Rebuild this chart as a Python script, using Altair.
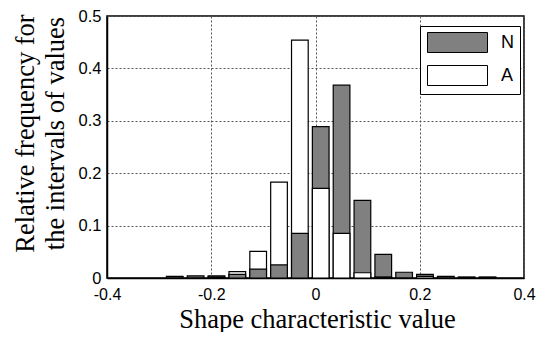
import altair as alt
import pandas as pd

centers = [-0.27, -0.23, -0.19, -0.15, -0.11, -0.07, -0.03, 0.01, 0.05, 0.09,
           0.13, 0.17, 0.21, 0.25, 0.29, 0.33]
n_vals = [0.003, 0.004, 0.004, 0.007, 0.017, 0.025, 0.085, 0.289, 0.368, 0.148,
          0.045, 0.011, 0.007, 0.003, 0.002, 0.002]
a_vals = [0.0, 0.0, 0.002, 0.012, 0.051, 0.183, 0.454, 0.171, 0.085, 0.010,
          0.002, 0.0, 0.003, 0.0, 0.0, 0.0]
series_names = ["N", "A"]
series_colors = ["#808080", "#ffffff"]
x_ticks = [-0.4, -0.2, 0, 0.2, 0.4]
y_ticks = [0, 0.1, 0.2, 0.3, 0.4, 0.5]
bin_width = 0.04

rows = []
for c, n, a in zip(centers, n_vals, a_vals):
    rows.append({"center": c, "series": "N", "value": n})
    rows.append({"center": c, "series": "A", "value": a})
df = pd.DataFrame(rows)
# larger bar drawn first, smaller one in front
df = df.sort_values("value", ascending=False, kind="stable").reset_index(drop=True)

half = bin_width * 0.4

bars = alt.Chart(df).transform_calculate(
    x0=f"datum.center - {half}", x1=f"datum.center + {half}"
).mark_bar(stroke="black", strokeWidth=1.2).encode(
    x=alt.X("x0:Q", scale=alt.Scale(domain=[-0.4, 0.4], nice=False),
            axis=alt.Axis(values=x_ticks, title="Shape characteristic value",
                          labelExpr="'' + datum.value", labelFlush=False,
                          titleX=210, titleY=49, titleBaseline="alphabetic",
                          labelPadding=8, labelFontSize=16)),
    x2="x1:Q",
    y=alt.Y("value:Q", scale=alt.Scale(domain=[0, 0.5], nice=False),
            axis=alt.Axis(values=y_ticks,
                          title=["Relative frequency for", "the intervals of values"],
                          labelExpr="'' + datum.value", labelFlush=False,
                          titleX=-74, titleY=117, titleAngle=270,
                          titleAlign="center", titleBaseline="alphabetic",
                          titleLineHeight=30, labelPadding=6)),
    y2=alt.datum(0),
    fill=alt.Fill("series:N",
                  scale=alt.Scale(domain=series_names, range=series_colors),
                  legend=alt.Legend(title=None, orient="none", legendX=313, legendY=10,
                                    symbolType="M-3,-1H3V1H-3Z", symbolSize=400,
                                    symbolStrokeColor="black", symbolStrokeWidth=1,
                                    symbolOpacity=1,
                                    symbolOffset=21, labelOffset=33,
                                    rowPadding=8, padding=6,
                                    strokeColor="black", fillColor="white",
                                    labelFont="Liberation Sans", labelFontSize=18,
                                    labelColor="black")),
    order=alt.Order("value:Q", sort="descending"),
)

chart = bars.properties(
    width=417, height=262,
    autosize=alt.AutoSizeParams(type="none"),
    padding={"left": 99, "top": 8, "right": 13, "bottom": 54},
).configure_view(
    stroke="black", strokeWidth=1.5
).configure_axis(
    grid=True, gridDash=[2, 2], gridColor="#555555", gridWidth=1,
    domainColor="black", domainWidth=1.5, ticks=False,
    labelFont="Liberation Sans", labelFontSize=16.5, labelColor="black",
    titleFont="Liberation Serif", titleFontSize=26.5, titleFontWeight="normal",
    titleColor="black",
)

chart.save("out.html", embed_options={"renderer": "svg", "actions": False})
